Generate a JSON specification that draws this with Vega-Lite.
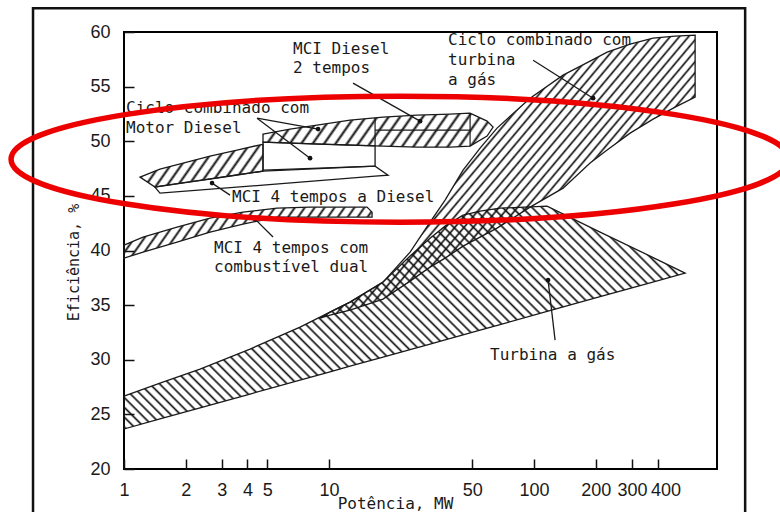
{
  "$schema": "https://vega.github.io/schema/vega-lite/v6.json",
  "width": 593,
  "height": 437,
  "autosize": {"type": "none"},
  "padding": {"left": 124, "top": 32, "right": 63, "bottom": 43},
  "background": "white",
  "config": {
    "view": {"stroke": "#000", "strokeWidth": 2},
    "axis": {"grid": false, "domain": false, "tickColor": "#111", "tickWidth": 1.5, "tickSize": -10, "labelColor": "#1a1a1a", "labelFont": "Liberation Sans", "labelFontSize": 18, "labelFlush": false, "labelOverlap": false, "titleFont": "DejaVu Sans Mono", "titleFontSize": 15, "titleFontWeight": "normal", "titleColor": "#1a1a1a"},
    "text": {"font": "DejaVu Sans Mono", "fontSize": 16, "color": "#1a1a1a"}
  },
  "datasets": {
    "tg": [
      {"x": 1, "y": 26.68, "y2": 23.66}, {"x": 1.498, "y": 27.87, "y2": 24.58}, {"x": 2.349, "y": 29.15, "y2": 25.59},
      {"x": 4.118, "y": 30.98, "y2": 26.86}, {"x": 7.22, "y": 32.99, "y2": 28.14}, {"x": 10.11, "y": 34.36, "y2": 28.9},
      {"x": 12.66, "y": 35.28, "y2": 29.41}, {"x": 18.34, "y": 37.11, "y2": 30.25}, {"x": 24.85, "y": 39.49, "y2": 30.93},
      {"x": 31.1, "y": 41.13, "y2": 31.44}, {"x": 36.81, "y": 42.23, "y2": 31.83}, {"x": 45.05, "y": 43.24, "y2": 32.28},
      {"x": 54.53, "y": 43.6, "y2": 32.72}, {"x": 68.25, "y": 43.88, "y2": 33.22}, {"x": 115.7, "y": 44.06, "y2": 34.42},
      {"x": 209.9, "y": 41.68, "y2": 35.77}, {"x": 368.0, "y": 39.49, "y2": 37.04}, {"x": 545.3, "y": 37.93, "y2": 37.93}
    ],
    "cc": [
      {"x": 9.04, "y": 33.82, "y2": 33.82}, {"x": 10.11, "y": 34.36, "y2": 34.09}, {"x": 12.66, "y": 35.28, "y2": 34.55},
      {"x": 18.34, "y": 37.11, "y2": 35.55}, {"x": 24.85, "y": 39.85, "y2": 37.2}, {"x": 31.1, "y": 42.6, "y2": 38.48},
      {"x": 36.81, "y": 44.61, "y2": 39.3}, {"x": 45.05, "y": 47.36, "y2": 40.4}, {"x": 54.53, "y": 49.37, "y2": 41.23},
      {"x": 65.98, "y": 51.2, "y2": 42.05}, {"x": 95.6, "y": 53.94, "y2": 43.97}, {"x": 138.5, "y": 56.05, "y2": 45.71},
      {"x": 187.6, "y": 57.33, "y2": 48.0}, {"x": 227.1, "y": 58.15, "y2": 49.19}, {"x": 294.0, "y": 58.88, "y2": 50.74},
      {"x": 380.6, "y": 59.43, "y2": 52.02}, {"x": 487.4, "y": 59.62, "y2": 53.12}, {"x": 610.1, "y": 59.71, "y2": 54.04}
    ],
    "box": [
      {"x": 4.764, "y": 49.92, "y2": 47.36}, {"x": 16.77, "y": 49.58, "y2": 47.72}
    ],
    "t2": [
      {"x": 4.764, "y": 50.65, "y2": 49.92}, {"x": 6.453, "y": 51.11, "y2": 49.83}, {"x": 8.738, "y": 51.47, "y2": 49.74},
      {"x": 12.66, "y": 51.93, "y2": 49.64}, {"x": 18.34, "y": 52.2, "y2": 49.55}, {"x": 26.88, "y": 52.39, "y2": 49.46},
      {"x": 38.93, "y": 52.48, "y2": 49.46}, {"x": 48.74, "y": 52.57, "y2": 49.55}, {"x": 58.98, "y": 51.84, "y2": 50.47},
      {"x": 63.1, "y": 51.29, "y2": 51.29}
    ],
    "d4": [
      {"x": 1.197, "y": 46.72, "y2": 46.72}, {"x": 1.416, "y": 47.26, "y2": 45.8}, {"x": 1.498, "y": 47.45, "y2": 45.87},
      {"x": 2.029, "y": 48.09, "y2": 46.23}, {"x": 2.628, "y": 48.64, "y2": 46.54}, {"x": 3.557, "y": 49.19, "y2": 46.91},
      {"x": 4.764, "y": 49.73, "y2": 47.26}
    ],
    "d4low": [
      {"x": 1.416, "y": 45.8, "y2": 45.8}, {"x": 1.498, "y": 45.89, "y2": 45.25}, {"x": 4.764, "y": 47.26, "y2": 45.98},
      {"x": 16.77, "y": 47.72, "y2": 46.81}, {"x": 19.4, "y": 46.9, "y2": 46.9}
    ],
    "df": [
      {"x": 1, "y": 40.49, "y2": 39.3}, {"x": 1.238, "y": 41.23, "y2": 39.85}, {"x": 1.814, "y": 42.14, "y2": 40.77},
      {"x": 2.628, "y": 42.96, "y2": 41.68}, {"x": 3.806, "y": 43.51, "y2": 42.42}, {"x": 5.576, "y": 43.88, "y2": 43.06},
      {"x": 8.08, "y": 43.97, "y2": 43.06}, {"x": 15.32, "y": 43.97, "y2": 43.06}, {"x": 16.21, "y": 43.51, "y2": 43.06}
    ],
    "inner": [
      {"x": 16.77, "y": 52.14, "x2": 16.77, "y2": 49.58},
      {"x": 16.77, "y": 51.02, "x2": 48.74, "y2": 51.02},
      {"x": 48.74, "y": 52.57, "x2": 48.74, "y2": 49.55}
    ],
    "labels": [
      {"x": 6.675, "y": 57.97, "t": "MCI Diesel"},
      {"x": 6.675, "y": 56.23, "t": "2 tempos"},
      {"x": 1.023, "y": 52.57, "t": "Ciclo combinado com"},
      {"x": 1.023, "y": 50.74, "t": "Motor Diesel"},
      {"x": 3.364, "y": 44.43, "t": "MCI 4 tempos a Diesel"},
      {"x": 2.748, "y": 39.76, "t": "MCI 4 tempos com"},
      {"x": 2.748, "y": 38.02, "t": "combustível dual"},
      {"x": 38.06, "y": 58.79, "t": "Ciclo combinado com"},
      {"x": 38.06, "y": 56.96, "t": "turbina"},
      {"x": 38.06, "y": 55.13, "t": "a gás"},
      {"x": 61.0, "y": 29.97, "t": "Turbina a gás"}
    ],
    "leaders": [
      {"x": 13.09, "y": 55.32, "x2": 27.79, "y2": 51.84},
      {"x": 4.455, "y": 52.11, "x2": 8.08, "y2": 48.45},
      {"x": 4.455, "y": 52.11, "x2": 8.84, "y2": 51.11},
      {"x": 3.289, "y": 45.07, "x2": 2.688, "y2": 46.17},
      {"x": 5.331, "y": 41.23, "x2": 4.355, "y2": 42.87},
      {"x": 98.9, "y": 57.42, "x2": 194.0, "y2": 53.94},
      {"x": 126.6, "y": 31.8, "x2": 117.0, "y2": 37.29}
    ],
    "highlight": [{"x": 22.2, "y": 48.36}],
    "frame": [{"x": 0.36, "y": 62.18, "x2": 1070, "y2": 14.4}]
  },
  "encoding": {
    "x": {"field": "x", "type": "quantitative", "title": "Potência, MW",
      "scale": {"type": "log", "domain": [1, 780], "nice": false},
      "axis": {"values": [1, 2, 3, 4, 5, 10, 50, 100, 200, 300, 400], "format": "d", "labelPadding": 22, "labelOffset": {"expr": "datum.value == 400 ? 8 : 0"}, "titleX": 271, "titleY": 39, "titleBaseline": "alphabetic", "titleAlign": "center", "titleFontSize": 16}},
    "y": {"field": "y", "type": "quantitative", "title": "Eficiência, %",
      "scale": {"domain": [20, 60], "nice": false, "zero": false},
      "axis": {"values": [20, 25, 30, 35, 40, 45, 50, 55, 60], "labelPadding": 24, "titleX": -51, "titleY": 230, "titleAngle": -90, "titleBaseline": "middle", "titleAlign": "center", "titleFontSize": 15}}
  },
  "layer": [
    {"data": {"name": "tg"}, "mark": {"type": "area", "stroke": "#1a1a1a", "strokeWidth": 1.3,
      "fill": {"gradient": "linear", "x1": 0, "y1": 1, "x2": 1.2068, "y2": 0.5203, "stops": [
        {"offset":0,"color":"#1110"},{"offset":0.003,"color":"#111"},{"offset":0.006,"color":"#1110"},
        {"offset":0.0125,"color":"#1110"},{"offset":0.0155,"color":"#111"},{"offset":0.0185,"color":"#1110"},
        {"offset":0.025,"color":"#1110"},{"offset":0.028,"color":"#111"},{"offset":0.031,"color":"#1110"},
        {"offset":0.0375,"color":"#1110"},{"offset":0.0405,"color":"#111"},{"offset":0.0435,"color":"#1110"},
        {"offset":0.05,"color":"#1110"},{"offset":0.053,"color":"#111"},{"offset":0.056,"color":"#1110"},
        {"offset":0.0625,"color":"#1110"},{"offset":0.0655,"color":"#111"},{"offset":0.0685,"color":"#1110"},
        {"offset":0.075,"color":"#1110"},{"offset":0.078,"color":"#111"},{"offset":0.081,"color":"#1110"},
        {"offset":0.0875,"color":"#1110"},{"offset":0.0905,"color":"#111"},{"offset":0.0935,"color":"#1110"},
        {"offset":0.1,"color":"#1110"},{"offset":0.103,"color":"#111"},{"offset":0.106,"color":"#1110"},
        {"offset":0.1125,"color":"#1110"},{"offset":0.1155,"color":"#111"},{"offset":0.1185,"color":"#1110"},
        {"offset":0.125,"color":"#1110"},{"offset":0.128,"color":"#111"},{"offset":0.131,"color":"#1110"},
        {"offset":0.1375,"color":"#1110"},{"offset":0.1405,"color":"#111"},{"offset":0.1435,"color":"#1110"},
        {"offset":0.15,"color":"#1110"},{"offset":0.153,"color":"#111"},{"offset":0.156,"color":"#1110"},
        {"offset":0.1625,"color":"#1110"},{"offset":0.1655,"color":"#111"},{"offset":0.1685,"color":"#1110"},
        {"offset":0.175,"color":"#1110"},{"offset":0.178,"color":"#111"},{"offset":0.181,"color":"#1110"},
        {"offset":0.1875,"color":"#1110"},{"offset":0.1905,"color":"#111"},{"offset":0.1935,"color":"#1110"},
        {"offset":0.2,"color":"#1110"},{"offset":0.203,"color":"#111"},{"offset":0.206,"color":"#1110"},
        {"offset":0.2125,"color":"#1110"},{"offset":0.2155,"color":"#111"},{"offset":0.2185,"color":"#1110"},
        {"offset":0.225,"color":"#1110"},{"offset":0.228,"color":"#111"},{"offset":0.231,"color":"#1110"},
        {"offset":0.2375,"color":"#1110"},{"offset":0.2405,"color":"#111"},{"offset":0.2435,"color":"#1110"},
        {"offset":0.25,"color":"#1110"},{"offset":0.253,"color":"#111"},{"offset":0.256,"color":"#1110"},
        {"offset":0.2625,"color":"#1110"},{"offset":0.2655,"color":"#111"},{"offset":0.2685,"color":"#1110"},
        {"offset":0.275,"color":"#1110"},{"offset":0.278,"color":"#111"},{"offset":0.281,"color":"#1110"},
        {"offset":0.2875,"color":"#1110"},{"offset":0.2905,"color":"#111"},{"offset":0.2935,"color":"#1110"},
        {"offset":0.3,"color":"#1110"},{"offset":0.303,"color":"#111"},{"offset":0.306,"color":"#1110"},
        {"offset":0.3125,"color":"#1110"},{"offset":0.3155,"color":"#111"},{"offset":0.3185,"color":"#1110"},
        {"offset":0.325,"color":"#1110"},{"offset":0.328,"color":"#111"},{"offset":0.331,"color":"#1110"},
        {"offset":0.3375,"color":"#1110"},{"offset":0.3405,"color":"#111"},{"offset":0.3435,"color":"#1110"},
        {"offset":0.35,"color":"#1110"},{"offset":0.353,"color":"#111"},{"offset":0.356,"color":"#1110"},
        {"offset":0.3625,"color":"#1110"},{"offset":0.3655,"color":"#111"},{"offset":0.3685,"color":"#1110"},
        {"offset":0.375,"color":"#1110"},{"offset":0.378,"color":"#111"},{"offset":0.381,"color":"#1110"},
        {"offset":0.3875,"color":"#1110"},{"offset":0.3905,"color":"#111"},{"offset":0.3935,"color":"#1110"},
        {"offset":0.4,"color":"#1110"},{"offset":0.403,"color":"#111"},{"offset":0.406,"color":"#1110"},
        {"offset":0.4125,"color":"#1110"},{"offset":0.4155,"color":"#111"},{"offset":0.4185,"color":"#1110"},
        {"offset":0.425,"color":"#1110"},{"offset":0.428,"color":"#111"},{"offset":0.431,"color":"#1110"},
        {"offset":0.4375,"color":"#1110"},{"offset":0.4405,"color":"#111"},{"offset":0.4435,"color":"#1110"},
        {"offset":0.45,"color":"#1110"},{"offset":0.453,"color":"#111"},{"offset":0.456,"color":"#1110"},
        {"offset":0.4625,"color":"#1110"},{"offset":0.4655,"color":"#111"},{"offset":0.4685,"color":"#1110"},
        {"offset":0.475,"color":"#1110"},{"offset":0.478,"color":"#111"},{"offset":0.481,"color":"#1110"},
        {"offset":0.4875,"color":"#1110"},{"offset":0.4905,"color":"#111"},{"offset":0.4935,"color":"#1110"},
        {"offset":0.5,"color":"#1110"},{"offset":0.503,"color":"#111"},{"offset":0.506,"color":"#1110"},
        {"offset":0.5125,"color":"#1110"},{"offset":0.5155,"color":"#111"},{"offset":0.5185,"color":"#1110"},
        {"offset":0.525,"color":"#1110"},{"offset":0.528,"color":"#111"},{"offset":0.531,"color":"#1110"},
        {"offset":0.5375,"color":"#1110"},{"offset":0.5405,"color":"#111"},{"offset":0.5435,"color":"#1110"},
        {"offset":0.55,"color":"#1110"},{"offset":0.553,"color":"#111"},{"offset":0.556,"color":"#1110"},
        {"offset":0.5625,"color":"#1110"},{"offset":0.5655,"color":"#111"},{"offset":0.5685,"color":"#1110"},
        {"offset":0.575,"color":"#1110"},{"offset":0.578,"color":"#111"},{"offset":0.581,"color":"#1110"},
        {"offset":0.5875,"color":"#1110"},{"offset":0.5905,"color":"#111"},{"offset":0.5935,"color":"#1110"},
        {"offset":0.6,"color":"#1110"},{"offset":0.603,"color":"#111"},{"offset":0.606,"color":"#1110"},
        {"offset":0.6125,"color":"#1110"},{"offset":0.6155,"color":"#111"},{"offset":0.6185,"color":"#1110"},
        {"offset":0.625,"color":"#1110"},{"offset":0.628,"color":"#111"},{"offset":0.631,"color":"#1110"},
        {"offset":0.6375,"color":"#1110"},{"offset":0.6405,"color":"#111"},{"offset":0.6435,"color":"#1110"},
        {"offset":0.65,"color":"#1110"},{"offset":0.653,"color":"#111"},{"offset":0.656,"color":"#1110"},
        {"offset":0.6625,"color":"#1110"},{"offset":0.6655,"color":"#111"},{"offset":0.6685,"color":"#1110"},
        {"offset":0.675,"color":"#1110"},{"offset":0.678,"color":"#111"},{"offset":0.681,"color":"#1110"},
        {"offset":0.6875,"color":"#1110"},{"offset":0.6905,"color":"#111"},{"offset":0.6935,"color":"#1110"},
        {"offset":0.7,"color":"#1110"},{"offset":0.703,"color":"#111"},{"offset":0.706,"color":"#1110"},
        {"offset":0.7125,"color":"#1110"},{"offset":0.7155,"color":"#111"},{"offset":0.7185,"color":"#1110"},
        {"offset":0.725,"color":"#1110"},{"offset":0.728,"color":"#111"},{"offset":0.731,"color":"#1110"},
        {"offset":0.7375,"color":"#1110"},{"offset":0.7405,"color":"#111"},{"offset":0.7435,"color":"#1110"},
        {"offset":0.75,"color":"#1110"},{"offset":0.753,"color":"#111"},{"offset":0.756,"color":"#1110"},
        {"offset":0.7625,"color":"#1110"},{"offset":0.7655,"color":"#111"},{"offset":0.7685,"color":"#1110"},
        {"offset":0.775,"color":"#1110"},{"offset":0.778,"color":"#111"},{"offset":0.781,"color":"#1110"},
        {"offset":0.7875,"color":"#1110"},{"offset":0.7905,"color":"#111"},{"offset":0.7935,"color":"#1110"},
        {"offset":0.8,"color":"#1110"},{"offset":0.803,"color":"#111"},{"offset":0.806,"color":"#1110"},
        {"offset":0.8125,"color":"#1110"},{"offset":0.8155,"color":"#111"},{"offset":0.8185,"color":"#1110"},
        {"offset":0.825,"color":"#1110"},{"offset":0.828,"color":"#111"},{"offset":0.831,"color":"#1110"},
        {"offset":0.8375,"color":"#1110"},{"offset":0.8405,"color":"#111"},{"offset":0.8435,"color":"#1110"},
        {"offset":0.85,"color":"#1110"},{"offset":0.853,"color":"#111"},{"offset":0.856,"color":"#1110"},
        {"offset":0.8625,"color":"#1110"},{"offset":0.8655,"color":"#111"},{"offset":0.8685,"color":"#1110"},
        {"offset":0.875,"color":"#1110"},{"offset":0.878,"color":"#111"},{"offset":0.881,"color":"#1110"},
        {"offset":0.8875,"color":"#1110"},{"offset":0.8905,"color":"#111"},{"offset":0.8935,"color":"#1110"},
        {"offset":0.9,"color":"#1110"},{"offset":0.903,"color":"#111"},{"offset":0.906,"color":"#1110"},
        {"offset":0.9125,"color":"#1110"},{"offset":0.9155,"color":"#111"},{"offset":0.9185,"color":"#1110"},
        {"offset":0.925,"color":"#1110"},{"offset":0.928,"color":"#111"},{"offset":0.931,"color":"#1110"},
        {"offset":0.9375,"color":"#1110"},{"offset":0.9405,"color":"#111"},{"offset":0.9435,"color":"#1110"},
        {"offset":0.95,"color":"#1110"},{"offset":0.953,"color":"#111"},{"offset":0.956,"color":"#1110"},
        {"offset":0.9625,"color":"#1110"},{"offset":0.9655,"color":"#111"},{"offset":0.9685,"color":"#1110"},
        {"offset":0.975,"color":"#1110"},{"offset":0.978,"color":"#111"},{"offset":0.981,"color":"#1110"},
        {"offset":0.9875,"color":"#1110"},{"offset":0.9905,"color":"#111"},{"offset":0.9935,"color":"#1110"}
      ]}}, "encoding": {"y2": {"field": "y2"}}},
    {"data": {"name": "cc"}, "mark": {"type": "area", "stroke": "#1a1a1a", "strokeWidth": 1.3,
      "fill": {"gradient": "linear", "x1": 0, "y1": 0, "x2": 1.1657, "y2": 0.7385, "stops": [
        {"offset":0,"color":"#1110"},{"offset":0.0035,"color":"#111"},{"offset":0.007,"color":"#1110"},
        {"offset":0.015,"color":"#1110"},{"offset":0.0185,"color":"#111"},{"offset":0.022,"color":"#1110"},
        {"offset":0.03,"color":"#1110"},{"offset":0.0335,"color":"#111"},{"offset":0.037,"color":"#1110"},
        {"offset":0.045,"color":"#1110"},{"offset":0.0485,"color":"#111"},{"offset":0.052,"color":"#1110"},
        {"offset":0.06,"color":"#1110"},{"offset":0.0635,"color":"#111"},{"offset":0.067,"color":"#1110"},
        {"offset":0.075,"color":"#1110"},{"offset":0.0785,"color":"#111"},{"offset":0.082,"color":"#1110"},
        {"offset":0.09,"color":"#1110"},{"offset":0.0935,"color":"#111"},{"offset":0.097,"color":"#1110"},
        {"offset":0.105,"color":"#1110"},{"offset":0.1085,"color":"#111"},{"offset":0.112,"color":"#1110"},
        {"offset":0.12,"color":"#1110"},{"offset":0.1235,"color":"#111"},{"offset":0.127,"color":"#1110"},
        {"offset":0.135,"color":"#1110"},{"offset":0.1385,"color":"#111"},{"offset":0.142,"color":"#1110"},
        {"offset":0.15,"color":"#1110"},{"offset":0.1535,"color":"#111"},{"offset":0.157,"color":"#1110"},
        {"offset":0.165,"color":"#1110"},{"offset":0.1685,"color":"#111"},{"offset":0.172,"color":"#1110"},
        {"offset":0.18,"color":"#1110"},{"offset":0.1835,"color":"#111"},{"offset":0.187,"color":"#1110"},
        {"offset":0.195,"color":"#1110"},{"offset":0.1985,"color":"#111"},{"offset":0.202,"color":"#1110"},
        {"offset":0.21,"color":"#1110"},{"offset":0.2135,"color":"#111"},{"offset":0.217,"color":"#1110"},
        {"offset":0.225,"color":"#1110"},{"offset":0.2285,"color":"#111"},{"offset":0.232,"color":"#1110"},
        {"offset":0.24,"color":"#1110"},{"offset":0.2435,"color":"#111"},{"offset":0.247,"color":"#1110"},
        {"offset":0.255,"color":"#1110"},{"offset":0.2585,"color":"#111"},{"offset":0.262,"color":"#1110"},
        {"offset":0.27,"color":"#1110"},{"offset":0.2735,"color":"#111"},{"offset":0.277,"color":"#1110"},
        {"offset":0.285,"color":"#1110"},{"offset":0.2885,"color":"#111"},{"offset":0.292,"color":"#1110"},
        {"offset":0.3,"color":"#1110"},{"offset":0.3035,"color":"#111"},{"offset":0.307,"color":"#1110"},
        {"offset":0.315,"color":"#1110"},{"offset":0.3185,"color":"#111"},{"offset":0.322,"color":"#1110"},
        {"offset":0.33,"color":"#1110"},{"offset":0.3335,"color":"#111"},{"offset":0.337,"color":"#1110"},
        {"offset":0.345,"color":"#1110"},{"offset":0.3485,"color":"#111"},{"offset":0.352,"color":"#1110"},
        {"offset":0.36,"color":"#1110"},{"offset":0.3635,"color":"#111"},{"offset":0.367,"color":"#1110"},
        {"offset":0.375,"color":"#1110"},{"offset":0.3785,"color":"#111"},{"offset":0.382,"color":"#1110"},
        {"offset":0.39,"color":"#1110"},{"offset":0.3935,"color":"#111"},{"offset":0.397,"color":"#1110"},
        {"offset":0.405,"color":"#1110"},{"offset":0.4085,"color":"#111"},{"offset":0.412,"color":"#1110"},
        {"offset":0.42,"color":"#1110"},{"offset":0.4235,"color":"#111"},{"offset":0.427,"color":"#1110"},
        {"offset":0.435,"color":"#1110"},{"offset":0.4385,"color":"#111"},{"offset":0.442,"color":"#1110"},
        {"offset":0.45,"color":"#1110"},{"offset":0.4535,"color":"#111"},{"offset":0.457,"color":"#1110"},
        {"offset":0.465,"color":"#1110"},{"offset":0.4685,"color":"#111"},{"offset":0.472,"color":"#1110"},
        {"offset":0.48,"color":"#1110"},{"offset":0.4835,"color":"#111"},{"offset":0.487,"color":"#1110"},
        {"offset":0.495,"color":"#1110"},{"offset":0.4985,"color":"#111"},{"offset":0.502,"color":"#1110"},
        {"offset":0.51,"color":"#1110"},{"offset":0.5135,"color":"#111"},{"offset":0.517,"color":"#1110"},
        {"offset":0.525,"color":"#1110"},{"offset":0.5285,"color":"#111"},{"offset":0.532,"color":"#1110"},
        {"offset":0.54,"color":"#1110"},{"offset":0.5435,"color":"#111"},{"offset":0.547,"color":"#1110"},
        {"offset":0.555,"color":"#1110"},{"offset":0.5585,"color":"#111"},{"offset":0.562,"color":"#1110"},
        {"offset":0.57,"color":"#1110"},{"offset":0.5735,"color":"#111"},{"offset":0.577,"color":"#1110"},
        {"offset":0.585,"color":"#1110"},{"offset":0.5885,"color":"#111"},{"offset":0.592,"color":"#1110"},
        {"offset":0.6,"color":"#1110"},{"offset":0.6035,"color":"#111"},{"offset":0.607,"color":"#1110"},
        {"offset":0.615,"color":"#1110"},{"offset":0.6185,"color":"#111"},{"offset":0.622,"color":"#1110"},
        {"offset":0.63,"color":"#1110"},{"offset":0.6335,"color":"#111"},{"offset":0.637,"color":"#1110"},
        {"offset":0.645,"color":"#1110"},{"offset":0.6485,"color":"#111"},{"offset":0.652,"color":"#1110"},
        {"offset":0.66,"color":"#1110"},{"offset":0.6635,"color":"#111"},{"offset":0.667,"color":"#1110"},
        {"offset":0.675,"color":"#1110"},{"offset":0.6785,"color":"#111"},{"offset":0.682,"color":"#1110"},
        {"offset":0.69,"color":"#1110"},{"offset":0.6935,"color":"#111"},{"offset":0.697,"color":"#1110"},
        {"offset":0.705,"color":"#1110"},{"offset":0.7085,"color":"#111"},{"offset":0.712,"color":"#1110"},
        {"offset":0.72,"color":"#1110"},{"offset":0.7235,"color":"#111"},{"offset":0.727,"color":"#1110"},
        {"offset":0.735,"color":"#1110"},{"offset":0.7385,"color":"#111"},{"offset":0.742,"color":"#1110"},
        {"offset":0.75,"color":"#1110"},{"offset":0.7535,"color":"#111"},{"offset":0.757,"color":"#1110"},
        {"offset":0.765,"color":"#1110"},{"offset":0.7685,"color":"#111"},{"offset":0.772,"color":"#1110"},
        {"offset":0.78,"color":"#1110"},{"offset":0.7835,"color":"#111"},{"offset":0.787,"color":"#1110"},
        {"offset":0.795,"color":"#1110"},{"offset":0.7985,"color":"#111"},{"offset":0.802,"color":"#1110"},
        {"offset":0.81,"color":"#1110"},{"offset":0.8135,"color":"#111"},{"offset":0.817,"color":"#1110"},
        {"offset":0.825,"color":"#1110"},{"offset":0.8285,"color":"#111"},{"offset":0.832,"color":"#1110"},
        {"offset":0.84,"color":"#1110"},{"offset":0.8435,"color":"#111"},{"offset":0.847,"color":"#1110"},
        {"offset":0.855,"color":"#1110"},{"offset":0.8585,"color":"#111"},{"offset":0.862,"color":"#1110"},
        {"offset":0.87,"color":"#1110"},{"offset":0.8735,"color":"#111"},{"offset":0.877,"color":"#1110"},
        {"offset":0.885,"color":"#1110"},{"offset":0.8885,"color":"#111"},{"offset":0.892,"color":"#1110"},
        {"offset":0.9,"color":"#1110"},{"offset":0.9035,"color":"#111"},{"offset":0.907,"color":"#1110"},
        {"offset":0.915,"color":"#1110"},{"offset":0.9185,"color":"#111"},{"offset":0.922,"color":"#1110"},
        {"offset":0.93,"color":"#1110"},{"offset":0.9335,"color":"#111"},{"offset":0.937,"color":"#1110"},
        {"offset":0.945,"color":"#1110"},{"offset":0.9485,"color":"#111"},{"offset":0.952,"color":"#1110"},
        {"offset":0.96,"color":"#1110"},{"offset":0.9635,"color":"#111"},{"offset":0.967,"color":"#1110"},
        {"offset":0.975,"color":"#1110"},{"offset":0.9785,"color":"#111"},{"offset":0.982,"color":"#1110"},
        {"offset":0.99,"color":"#1110"},{"offset":0.9935,"color":"#111"},{"offset":0.997,"color":"#1110"}
      ]}}, "encoding": {"y2": {"field": "y2"}}},
    {"data": {"name": "box"}, "mark": {"type": "area", "fill": "#fff", "fillOpacity": 1, "stroke": "#1a1a1a", "strokeWidth": 1.3}, "encoding": {"y2": {"field": "y2"}}},
    {"data": {"name": "t2"}, "mark": {"type": "area", "stroke": "#1a1a1a", "strokeWidth": 1.3,
      "fill": {"gradient": "linear", "x1": 0, "y1": 0, "x2": 1.0919, "y2": 0.1131, "stops": [
        {"offset":0,"color":"#1110"},{"offset":0.01,"color":"#111"},{"offset":0.02,"color":"#1110"},
        {"offset":0.045,"color":"#1110"},{"offset":0.055,"color":"#111"},{"offset":0.065,"color":"#1110"},
        {"offset":0.09,"color":"#1110"},{"offset":0.1,"color":"#111"},{"offset":0.11,"color":"#1110"},
        {"offset":0.135,"color":"#1110"},{"offset":0.145,"color":"#111"},{"offset":0.155,"color":"#1110"},
        {"offset":0.18,"color":"#1110"},{"offset":0.19,"color":"#111"},{"offset":0.2,"color":"#1110"},
        {"offset":0.225,"color":"#1110"},{"offset":0.235,"color":"#111"},{"offset":0.245,"color":"#1110"},
        {"offset":0.27,"color":"#1110"},{"offset":0.28,"color":"#111"},{"offset":0.29,"color":"#1110"},
        {"offset":0.315,"color":"#1110"},{"offset":0.325,"color":"#111"},{"offset":0.335,"color":"#1110"},
        {"offset":0.36,"color":"#1110"},{"offset":0.37,"color":"#111"},{"offset":0.38,"color":"#1110"},
        {"offset":0.405,"color":"#1110"},{"offset":0.415,"color":"#111"},{"offset":0.425,"color":"#1110"},
        {"offset":0.45,"color":"#1110"},{"offset":0.46,"color":"#111"},{"offset":0.47,"color":"#1110"},
        {"offset":0.495,"color":"#1110"},{"offset":0.505,"color":"#111"},{"offset":0.515,"color":"#1110"},
        {"offset":0.54,"color":"#1110"},{"offset":0.55,"color":"#111"},{"offset":0.56,"color":"#1110"},
        {"offset":0.585,"color":"#1110"},{"offset":0.595,"color":"#111"},{"offset":0.605,"color":"#1110"},
        {"offset":0.63,"color":"#1110"},{"offset":0.64,"color":"#111"},{"offset":0.65,"color":"#1110"},
        {"offset":0.675,"color":"#1110"},{"offset":0.685,"color":"#111"},{"offset":0.695,"color":"#1110"},
        {"offset":0.72,"color":"#1110"},{"offset":0.73,"color":"#111"},{"offset":0.74,"color":"#1110"},
        {"offset":0.765,"color":"#1110"},{"offset":0.775,"color":"#111"},{"offset":0.785,"color":"#1110"},
        {"offset":0.81,"color":"#1110"},{"offset":0.82,"color":"#111"},{"offset":0.83,"color":"#1110"},
        {"offset":0.855,"color":"#1110"},{"offset":0.865,"color":"#111"},{"offset":0.875,"color":"#1110"},
        {"offset":0.9,"color":"#1110"},{"offset":0.91,"color":"#111"},{"offset":0.92,"color":"#1110"},
        {"offset":0.945,"color":"#1110"},{"offset":0.955,"color":"#111"},{"offset":0.965,"color":"#1110"},
        {"offset":0.99,"color":"#1110"},{"offset":1,"color":"#111"}
      ]}}, "encoding": {"y2": {"field": "y2"}}},
    {"data": {"name": "d4"}, "mark": {"type": "area", "stroke": "#1a1a1a", "strokeWidth": 1.3,
      "fill": {"gradient": "linear", "x1": 0, "y1": 0, "x2": 1.1745, "y2": 0.2878, "stops": [
        {"offset":0,"color":"#1110"},{"offset":0.016,"color":"#111"},{"offset":0.032,"color":"#1110"},
        {"offset":0.07,"color":"#1110"},{"offset":0.086,"color":"#111"},{"offset":0.102,"color":"#1110"},
        {"offset":0.14,"color":"#1110"},{"offset":0.156,"color":"#111"},{"offset":0.172,"color":"#1110"},
        {"offset":0.21,"color":"#1110"},{"offset":0.226,"color":"#111"},{"offset":0.242,"color":"#1110"},
        {"offset":0.28,"color":"#1110"},{"offset":0.296,"color":"#111"},{"offset":0.312,"color":"#1110"},
        {"offset":0.35,"color":"#1110"},{"offset":0.366,"color":"#111"},{"offset":0.382,"color":"#1110"},
        {"offset":0.42,"color":"#1110"},{"offset":0.436,"color":"#111"},{"offset":0.452,"color":"#1110"},
        {"offset":0.49,"color":"#1110"},{"offset":0.506,"color":"#111"},{"offset":0.522,"color":"#1110"},
        {"offset":0.56,"color":"#1110"},{"offset":0.576,"color":"#111"},{"offset":0.592,"color":"#1110"},
        {"offset":0.63,"color":"#1110"},{"offset":0.646,"color":"#111"},{"offset":0.662,"color":"#1110"},
        {"offset":0.7,"color":"#1110"},{"offset":0.716,"color":"#111"},{"offset":0.732,"color":"#1110"},
        {"offset":0.77,"color":"#1110"},{"offset":0.786,"color":"#111"},{"offset":0.802,"color":"#1110"},
        {"offset":0.84,"color":"#1110"},{"offset":0.856,"color":"#111"},{"offset":0.872,"color":"#1110"},
        {"offset":0.91,"color":"#1110"},{"offset":0.926,"color":"#111"},{"offset":0.942,"color":"#1110"},
        {"offset":0.98,"color":"#1110"},{"offset":0.996,"color":"#111"},{"offset":1,"color":"#1110"}
      ]}}, "encoding": {"y2": {"field": "y2"}}},
    {"data": {"name": "d4low"}, "mark": {"type": "area", "fill": "#fff", "fillOpacity": 0, "stroke": "#1a1a1a", "strokeWidth": 1.3}, "encoding": {"y2": {"field": "y2"}}},
    {"data": {"name": "df"}, "mark": {"type": "area", "stroke": "#1a1a1a", "strokeWidth": 1.3,
      "fill": {"gradient": "linear", "x1": 0, "y1": 0, "x2": 1.1208, "y2": 0.1615, "stops": [
        {"offset":0,"color":"#1110"},{"offset":0.008,"color":"#111"},{"offset":0.016,"color":"#1110"},
        {"offset":0.035,"color":"#1110"},{"offset":0.043,"color":"#111"},{"offset":0.051,"color":"#1110"},
        {"offset":0.07,"color":"#1110"},{"offset":0.078,"color":"#111"},{"offset":0.086,"color":"#1110"},
        {"offset":0.105,"color":"#1110"},{"offset":0.113,"color":"#111"},{"offset":0.121,"color":"#1110"},
        {"offset":0.14,"color":"#1110"},{"offset":0.148,"color":"#111"},{"offset":0.156,"color":"#1110"},
        {"offset":0.175,"color":"#1110"},{"offset":0.183,"color":"#111"},{"offset":0.191,"color":"#1110"},
        {"offset":0.21,"color":"#1110"},{"offset":0.218,"color":"#111"},{"offset":0.226,"color":"#1110"},
        {"offset":0.245,"color":"#1110"},{"offset":0.253,"color":"#111"},{"offset":0.261,"color":"#1110"},
        {"offset":0.28,"color":"#1110"},{"offset":0.288,"color":"#111"},{"offset":0.296,"color":"#1110"},
        {"offset":0.315,"color":"#1110"},{"offset":0.323,"color":"#111"},{"offset":0.331,"color":"#1110"},
        {"offset":0.35,"color":"#1110"},{"offset":0.358,"color":"#111"},{"offset":0.366,"color":"#1110"},
        {"offset":0.385,"color":"#1110"},{"offset":0.393,"color":"#111"},{"offset":0.401,"color":"#1110"},
        {"offset":0.42,"color":"#1110"},{"offset":0.428,"color":"#111"},{"offset":0.436,"color":"#1110"},
        {"offset":0.455,"color":"#1110"},{"offset":0.463,"color":"#111"},{"offset":0.471,"color":"#1110"},
        {"offset":0.49,"color":"#1110"},{"offset":0.498,"color":"#111"},{"offset":0.506,"color":"#1110"},
        {"offset":0.525,"color":"#1110"},{"offset":0.533,"color":"#111"},{"offset":0.541,"color":"#1110"},
        {"offset":0.56,"color":"#1110"},{"offset":0.568,"color":"#111"},{"offset":0.576,"color":"#1110"},
        {"offset":0.595,"color":"#1110"},{"offset":0.603,"color":"#111"},{"offset":0.611,"color":"#1110"},
        {"offset":0.63,"color":"#1110"},{"offset":0.638,"color":"#111"},{"offset":0.646,"color":"#1110"},
        {"offset":0.665,"color":"#1110"},{"offset":0.673,"color":"#111"},{"offset":0.681,"color":"#1110"},
        {"offset":0.7,"color":"#1110"},{"offset":0.708,"color":"#111"},{"offset":0.716,"color":"#1110"},
        {"offset":0.735,"color":"#1110"},{"offset":0.743,"color":"#111"},{"offset":0.751,"color":"#1110"},
        {"offset":0.77,"color":"#1110"},{"offset":0.778,"color":"#111"},{"offset":0.786,"color":"#1110"},
        {"offset":0.805,"color":"#1110"},{"offset":0.813,"color":"#111"},{"offset":0.821,"color":"#1110"},
        {"offset":0.84,"color":"#1110"},{"offset":0.848,"color":"#111"},{"offset":0.856,"color":"#1110"},
        {"offset":0.875,"color":"#1110"},{"offset":0.883,"color":"#111"},{"offset":0.891,"color":"#1110"},
        {"offset":0.91,"color":"#1110"},{"offset":0.918,"color":"#111"},{"offset":0.926,"color":"#1110"},
        {"offset":0.945,"color":"#1110"},{"offset":0.953,"color":"#111"},{"offset":0.961,"color":"#1110"},
        {"offset":0.98,"color":"#1110"},{"offset":0.988,"color":"#111"},{"offset":0.996,"color":"#1110"}
      ]}}, "encoding": {"y2": {"field": "y2"}}},
    {"data": {"name": "inner"}, "mark": {"type": "rule", "stroke": "#1a1a1a", "strokeWidth": 1.2}, "encoding": {"x2": {"field": "x2"}, "y2": {"field": "y2"}}},
    {"data": {"name": "leaders"}, "mark": {"type": "rule", "stroke": "#1a1a1a", "strokeWidth": 1.3}, "encoding": {"x2": {"field": "x2"}, "y2": {"field": "y2"}}},
    {"data": {"name": "leaders"}, "mark": {"type": "point", "filled": true, "color": "#111", "size": 22, "opacity": 1}, "encoding": {"x": {"field": "x2", "type": "quantitative"}, "y": {"field": "y2", "type": "quantitative"}}},
    {"data": {"name": "labels"}, "mark": {"type": "text", "align": "left", "baseline": "alphabetic"}, "encoding": {"text": {"field": "t"}}},
    {"data": {"name": "frame"}, "mark": {"type": "rect", "fill": "transparent", "stroke": "#111", "strokeWidth": 2.5, "clip": false},
      "encoding": {"x2": {"field": "x2"}, "y2": {"field": "y2"}}},
    {"data": {"name": "highlight"}, "mark": {"type": "point", "shape": "M-1,0C-1,-0.0895,-0.5523,-0.162,0,-0.162C0.5523,-0.162,1,-0.0895,1,0C1,0.0895,0.5523,0.162,0,0.162C-0.5523,0.162,-1,0.0895,-1,0Z", "size": 605284, "filled": false, "stroke": "#ec0000", "strokeWidth": 5.5, "opacity": 1, "clip": false}}
  ]
}
